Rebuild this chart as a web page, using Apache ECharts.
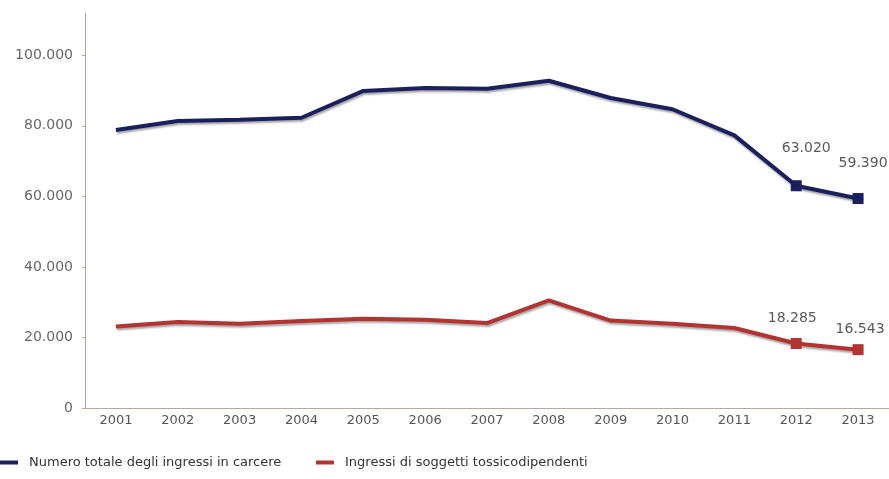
<!DOCTYPE html>
<html>
<head>
<meta charset="utf-8">
<script src="https://cdn.jsdelivr.net/npm/echarts@6/dist/echarts.min.js"></script>
<style>
html,body{margin:0;padding:0;background:#fff;}
#chart{width:889px;height:479px;}
</style>
</head>
<body>
<div id="chart"></div>
<script>
var years = ['2001','2002','2003','2004','2005','2006','2007','2008','2009','2010','2011','2012','2013'];
var totalIngressi = [78800, 81400, 81700, 82300, 89900, 90700, 90500, 92800, 87900, 84700, 77300, 63020, 59390];
var tossicodipendenti = [23100, 24400, 23900, 24700, 25300, 25000, 24100, 30500, 24800, 23900, 22700, 18285, 16543];
var seriesNames = ['Numero totale degli ingressi in carcere', 'Ingressi di soggetti tossicodipendenti'];
var labelledIndices = [11, 12];

function fmt(v){
  return String(v).replace(/\B(?=(\d{3})+(?!\d))/g, '.');
}

var FONT = 'DejaVu Sans';

function buildData(values, offsets){
  return values.map(function(v, i){
    var k = labelledIndices.indexOf(i);
    if (k < 0) return { value: v, symbolSize: 0 };
    return {
      value: v,
      symbol: 'rect',
      symbolSize: 11,
      label: {
        show: true,
        position: 'top',
        distance: 5,
        offset: offsets[k],
        formatter: function(p){ return fmt(p.value); },
        color: '#5a5a5a',
        fontFamily: FONT,
        fontSize: 14
      }
    };
  });
}

var chart = echarts.init(document.getElementById('chart'), null, {renderer:'canvas'});
var lineShadow = { shadowColor: 'rgba(0,0,0,0.35)', shadowBlur: 2, shadowOffsetX: 1, shadowOffsetY: 2 };

chart.setOption({
  animation: false,
  backgroundColor: '#fff',
  grid: { left: 85, right: 0, top: 13, bottom: 71, containLabel: false },
  xAxis: {
    type: 'category',
    data: years,
    boundaryGap: true,
    axisLine: { show: true, lineStyle: { color: '#b5aaa2', width: 1 } },
    axisTick: { show: false },
    axisLabel: { color: '#555', fontFamily: FONT, fontSize: 13, margin: 6 }
  },
  yAxis: {
    type: 'value',
    min: 0,
    max: 112000,
    interval: 20000,
    axisLine: { show: true, lineStyle: { color: '#b5aaa2', width: 1 } },
    axisTick: { show: true, length: 3, lineStyle: { color: '#b5aaa2' } },
    splitLine: { show: false },
    axisLabel: {
      color: '#666', fontFamily: FONT, fontSize: 14, margin: 12,
      showMaxLabel: false,
      formatter: function(v){ return v > 100000 ? '' : fmt(v); }
    }
  },
  legend: [
    {
      left: 0, top: 456, padding: 0,
      data: [seriesNames[0]],
      icon: 'rect', itemWidth: 18, itemHeight: 4,
      textStyle: { color: '#333', fontFamily: FONT, fontSize: 13, padding: [0,0,0,6] }
    },
    {
      left: 316, top: 456, padding: 0,
      data: [seriesNames[1]],
      icon: 'rect', itemWidth: 18, itemHeight: 4,
      textStyle: { color: '#333', fontFamily: FONT, fontSize: 13, padding: [0,0,0,6] }
    }
  ],
  series: [
    {
      name: seriesNames[0],
      type: 'line',
      data: buildData(totalIngressi, [[10,-20],[5,-18]]),
      color: '#1c1f5e',
      lineStyle: Object.assign({ width: 4, color: '#1c1f5e' }, lineShadow),
      itemStyle: { color: '#1c1f5e' },
      showSymbol: true,
      symbol: 'rect'
    },
    {
      name: seriesNames[1],
      type: 'line',
      data: buildData(tossicodipendenti, [[-4,-8],[2,-3]]),
      color: '#b33330',
      lineStyle: Object.assign({ width: 4, color: '#b33330' }, lineShadow),
      itemStyle: { color: '#b33330' },
      showSymbol: true,
      symbol: 'rect'
    }
  ]
});
</script>
</body>
</html>
